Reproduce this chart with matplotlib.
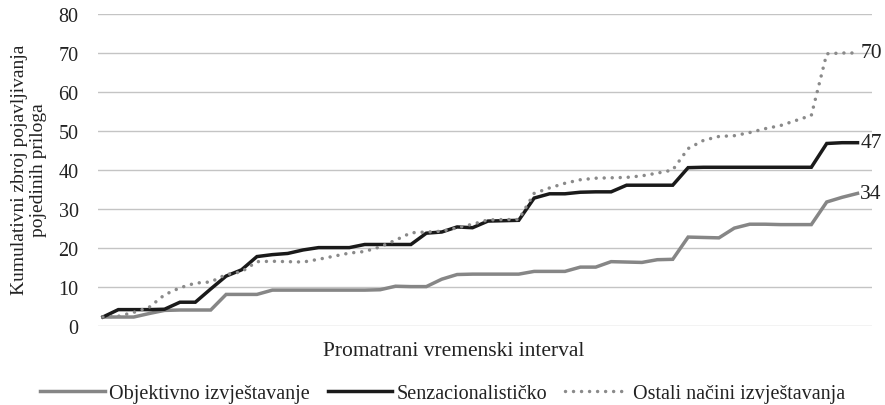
import matplotlib
matplotlib.use('Agg')
import matplotlib.pyplot as plt
import numpy as np

plt.rcParams['font.family'] = ['Liberation Serif', 'DejaVu Serif']

# cumulative counts, one value per time step
objektivno = [2.3, 2.3, 2.3, 3.2, 4.0, 4.1, 4.1, 4.1, 8.1, 8.1,
              8.1, 9.2, 9.2, 9.2, 9.2, 9.2, 9.2, 9.2, 9.3, 10.2,
              10.1, 10.1, 12.0, 13.2, 13.3, 13.3, 13.3, 13.3, 14.0, 14.0,
              14.0, 15.1, 15.1, 16.5, 16.4, 16.3, 17.0, 17.1, 22.8, 22.7,
              22.6, 25.1, 26.1, 26.1, 26.0, 26.0, 26.0, 31.8, 33.0, 34.0]
senzacionalisticko = [2.3, 4.2, 4.2, 4.2, 4.3, 6.1, 6.1, 9.5, 12.8, 14.4,
                      17.8, 18.3, 18.6, 19.5, 20.1, 20.1, 20.1, 20.9, 20.9, 20.9,
                      20.9, 23.8, 24.1, 25.4, 25.2, 26.9, 27.0, 27.1, 32.8, 33.9,
                      33.9, 34.3, 34.4, 34.4, 36.1, 36.1, 36.1, 36.1, 40.6, 40.7,
                      40.7, 40.7, 40.7, 40.7, 40.7, 40.7, 40.7, 46.8, 47.0, 47.0]
ostali = [2.3, 2.5, 3.5, 4.8, 8.0, 9.8, 11.0, 11.3, 13.2, 13.9,
          16.5, 16.6, 16.5, 16.4, 17.1, 17.9, 18.7, 19.1, 20.3, 22.0,
          23.9, 24.1, 24.3, 25.2, 26.1, 27.2, 27.3, 27.3, 34.0, 35.4,
          36.6, 37.5, 37.9, 38.0, 38.1, 38.5, 39.2, 40.0, 45.5, 47.6,
          48.6, 48.8, 49.6, 50.6, 51.4, 52.7, 54.0, 69.8, 70.0, 70.0]
end_labels = ['34', '47', '70']
names = ['Objektivno izvještavanje', 'Senzacionalističko', 'Ostali načini izvještavanja']

x = np.arange(len(objektivno))

fig = plt.figure(figsize=(8.85, 4.06), dpi=100)
ax = fig.add_axes([98/885, 1-327/406, 774/885, 312/406])

l1, = ax.plot(x, objektivno, color='#868686', lw=2.5, solid_joinstyle='miter')
l2, = ax.plot(x, senzacionalisticko, color='#1a1a1a', lw=2.5, solid_joinstyle='miter')
l3, = ax.plot(x, ostali, color='#8a8a8a', lw=2.5, linestyle=(0, (0.01, 2.3)),
              dash_capstyle='round')

for series, lab in zip([objektivno, senzacionalisticko, ostali], end_labels):
    ax.annotate(lab, (x[-1], series[-1]), xytext=(2, 0), textcoords='offset points',
                va='center', ha='left', fontsize=15.5, color='#222222',
                annotation_clip=False)

ax.set_xlim(-0.32, 49.94)
ax.set_ylim(0, 80)
ax.set_yticks(range(0, 81, 10))
ax.set_xticks([])
ax.grid(axis='y', color='#c4c4c4', lw=1)
ax.set_axisbelow(True)
for s in ax.spines.values():
    s.set_visible(False)
ax.tick_params(axis='y', length=0, pad=14, labelsize=14.5, labelcolor='#222222')

fig.text(29/885, 1-170/406, 'Kumulativni zbroj pojavljivanja\npojedinih priloga',
         rotation=90, ha='center', va='center', fontsize=14, linespacing=1.1,
         color='#222222')
fig.text(454/885, 1-352/406, 'Promatrani vremenski interval', ha='center',
         va='center', fontsize=15.5, color='#222222')

fig.legend([l1, l2, l3], names, loc='center', bbox_to_anchor=(443/885, 1-394/406),
           ncol=3, frameon=False, fontsize=14.5, handlelength=3.2,
           handletextpad=0.2, columnspacing=0.9, labelcolor='#222222')

plt.savefig('out.png', dpi=100)
